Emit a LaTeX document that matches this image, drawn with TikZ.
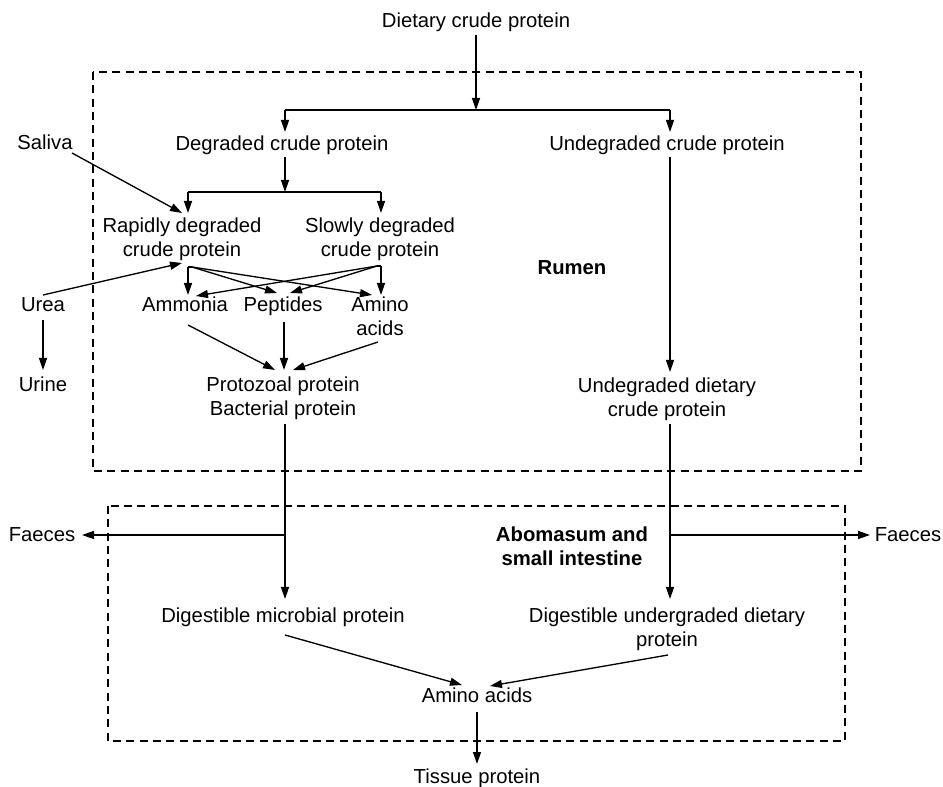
\documentclass[tikz,border=0pt]{standalone}
\usepackage{fontspec}
\setmainfont{Liberation Sans}
\usetikzlibrary{arrows.meta}
\begin{document}
\begin{tikzpicture}[x=0.75pt,y=-0.75pt,
  lbl/.style={font=\fontsize{15.2pt}{18pt}\selectfont, inner sep=1pt, align=center, anchor=base},
  blbl/.style={lbl, font=\fontsize{15.2pt}{18pt}\selectfont\bfseries},
  arr/.style={line width=1pt, -{Triangle[length=9pt,width=6pt]}},
  ln/.style={line width=1pt},
  dbox/.style={line width=1.3pt, dash pattern=on 6pt off 4pt}]
\useasboundingbox (0,0) rectangle (943,787);
% boxes
\draw[dbox] (93,72) rectangle (861,471);
\draw[dbox] (108,506) rectangle (845,741);
% nodes (positions are last-line baselines)
\node[lbl] (diet) at (476,28) {Dietary crude protein};
\node[lbl] (deg) at (282,151) {Degraded crude protein};
\node[lbl] (undeg) at (667,151) {Undegraded crude protein};
\node[lbl] (rap) at (182,257) {Rapidly degraded\\crude protein};
\node[lbl] (slow) at (380,257) {Slowly degraded\\crude protein};
\node[lbl] (saliva) at (45,150) {Saliva};
\node[lbl] (urea) at (43,312) {Urea};
\node[lbl] (urine) at (43,392) {Urine};
\node[lbl] (amm) at (185,312) {Ammonia};
\node[lbl] (pep) at (283,312) {Peptides};
\node[lbl] (amino) at (380,336) {Amino\\acids};
\node[lbl] (proto) at (283,416) {Protozoal protein\\Bacterial protein};
\node[lbl] (undd) at (667,417) {Undegraded dietary\\crude protein};
\node[blbl] (rumen) at (572,275) {Rumen};
\node[lbl] (faecesL) at (42,542) {Faeces};
\node[lbl] (faecesR) at (908,542) {Faeces};
\node[blbl] (abo) at (572,566) {Abomasum and\\small intestine};
\node[lbl] (dmp) at (283,623) {Digestible microbial protein};
\node[lbl] (dud) at (667,647) {Digestible undergraded dietary\\protein};
\node[lbl] (aa) at (477,702) {Amino acids};
\node[lbl] (tissue) at (477,783) {Tissue protein};
% coordinates
\coordinate (j1) at (476,110);
\coordinate (j1l) at (285,110);
\coordinate (j1r) at (670,110);
\coordinate (j2) at (285,192);
\coordinate (j2l) at (188,192);
\coordinate (j2r) at (381,192);
\coordinate (rs) at (188,267);
\coordinate (ss) at (381,266);
\coordinate (fl) at (285,535);
\coordinate (fr) at (670,535);
% connectors
\draw[arr] (476,35) -- (j1);
\draw[ln] (j1l) -- (j1r);
\draw[arr] (j1l) -- (285,132);
\draw[arr] (j1r) -- (670,132);
\draw[arr] (285,157) -- (j2);
\draw[ln] (j2l) -- (j2r);
\draw[arr] (j2l) -- (188,213);
\draw[arr] (j2r) -- (381,213);
\draw[arr] (72,153) -- (182,213);
\draw[arr] (43,295) -- (182,263);
\draw[arr] (43,320) -- (43,370);
\draw[ln] (rs) -- (192,267);
\draw[arr] (rs) -- (188,295);
\draw[arr] (192,267) -- (277,293);
\draw[arr] (192,267) -- (372,295);
\draw[ln] (ss) -- (377,266);
\draw[arr] (377,266) -- (196,296);
\draw[arr] (377,266) -- (290,293);
\draw[arr] (ss) -- (381,295);
\draw[arr] (188,325) -- (275,370);
\draw[arr] (284,322) -- (284,370);
\draw[arr] (378,342) -- (293,370);
\draw[arr] (285,424) -- (285,599);
\draw[arr] (fl) -- (82,535);
\draw[arr] (670,157) -- (670,372);
\draw[arr] (670,424) -- (670,599);
\draw[arr] (fr) -- (870,535);
\draw[arr] (285,635) -- (462,685);
\draw[arr] (668,655) -- (490,686);
\draw[arr] (477,712) -- (477,764);
\end{tikzpicture}
\end{document}
